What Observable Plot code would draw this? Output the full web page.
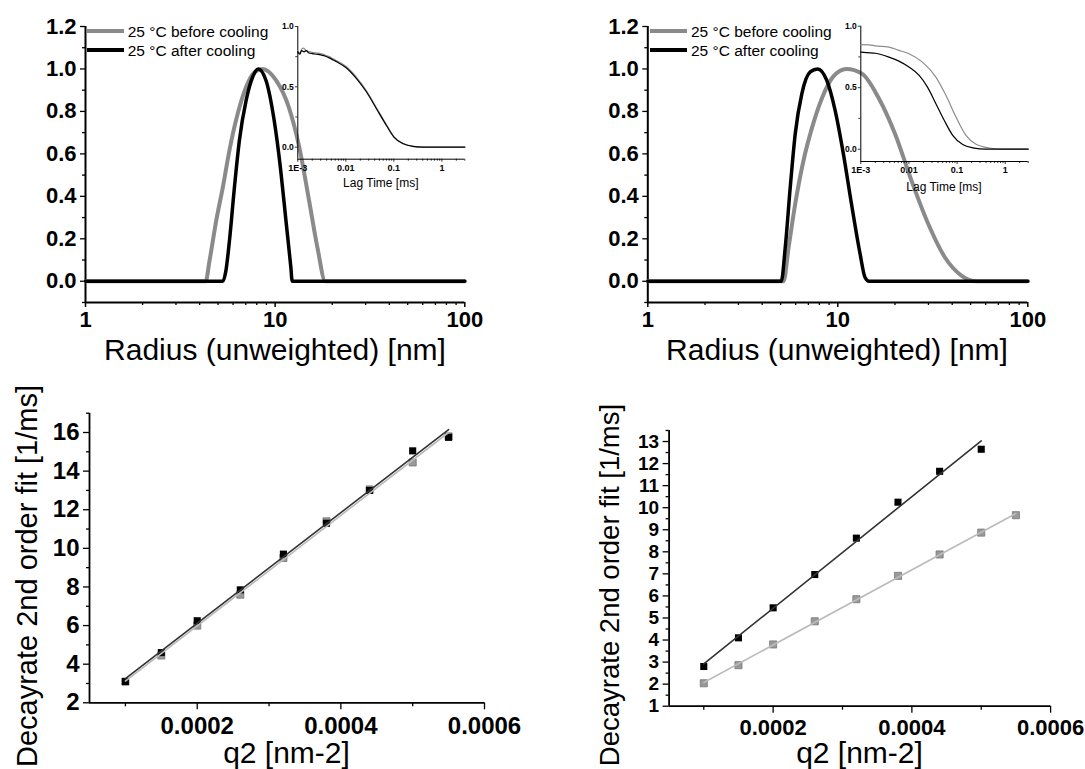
<!DOCTYPE html>
<html>
<head>
<meta charset="utf-8">
<script src="https://cdn.jsdelivr.net/npm/d3@7"></script>
<script src="https://cdn.jsdelivr.net/npm/@observablehq/plot@0.6"></script>
<style>
  body { margin: 0; background: #fff; }
  #fig { position: relative; width: 1085px; height: 769px; overflow: hidden; background: #fff;
         font-family: "Liberation Sans", Arial, Helvetica, sans-serif; }
  #fig svg { position: absolute; }
  .lbl { position: absolute; white-space: nowrap; line-height: 1; color: #000; }
  .swatch { position: absolute; height: 4px; }
</style>
</head>
<body>
<div id="fig"></div>
<script>
// ---------------- data ----------------
const seriesNames = ["25 °C before cooling", "25 °C after cooling"];
const seriesColors = ["#8a8a8a", "#000000"];

// top panels: size distribution, [radius nm, normalized intensity]
const leftBefore = [[1,0],[4.3,0],[4.51,0.098],[4.89,0.286],[5.30,0.443],[5.74,0.617],[6.35,0.79],[7.03,0.915],[7.7,0.98],[8.58,1.0],[10.1,0.947],[11.8,0.82],[13.4,0.632],[15.1,0.38],[16.7,0.16],[18.4,0],[100,0]];
const leftAfter = [[1,0],[5.30,0],[5.5,0.05],[5.74,0.19],[6.10,0.443],[6.48,0.664],[7.03,0.852],[7.61,0.962],[8.15,1.0],[8.94,0.947],[9.88,0.758],[10.7,0.522],[11.4,0.286],[12.1,0.066],[12.3,0],[100,0]];
const rightBefore = [[1,0],[5.18,0],[5.51,0.16],[5.97,0.365],[6.60,0.569],[7.30,0.72],[8.23,0.86],[9.48,0.965],[11.1,1.0],[13.4,0.978],[16.3,0.868],[20.0,0.695],[24.4,0.475],[29.9,0.271],[36.6,0.113],[44.7,0.027],[53.6,0],[100,0]];
const rightAfter = [[1,0],[5.04,0],[5.29,0.16],[5.62,0.443],[5.97,0.695],[6.47,0.884],[7.16,0.986],[7.84,1.0],[8.74,0.947],[9.68,0.805],[10.7,0.6],[11.8,0.365],[13.1,0.129],[13.9,0.019],[14.6,0],[100,0]];

const radiusTicks = [1, 10, 100];
const radiusMinorTicks = [2,3,4,5,6,7,8,9,20,30,40,50,60,70,80,90];
const sizeTicks = [0, 0.2, 0.4, 0.6, 0.8, 1.0, 1.2];
const sizeMinorTicks = [-0.1, 0.1, 0.3, 0.5, 0.7, 0.9, 1.1];

// insets: correlation functions, [lag time ms, g]
const leftCorrBefore = [[0.001,0.80],[0.0011,0.78],[0.0012,0.81],[0.0013,0.82],[0.0015,0.80],[0.0018,0.79],[0.002,0.785],[0.0025,0.78],[0.003,0.775],[0.0035,0.768],[0.0045,0.75],[0.0056,0.73],[0.007,0.71],[0.01,0.67],[0.017,0.575],[0.0274,0.463],[0.044,0.322],[0.071,0.182],[0.1,0.088],[0.157,0.03],[0.25,0.007],[0.4,0],[1,0],[3,0]];
const leftCorrAfter = [[0.001,0.79],[0.0011,0.77],[0.0012,0.80],[0.00135,0.79],[0.0015,0.80],[0.0017,0.78],[0.002,0.775],[0.0025,0.77],[0.003,0.765],[0.0035,0.758],[0.0045,0.74],[0.0056,0.72],[0.007,0.70],[0.01,0.66],[0.017,0.564],[0.0274,0.453],[0.044,0.314],[0.071,0.175],[0.1,0.083],[0.157,0.028],[0.25,0.006],[0.4,0],[1,0],[3,0]];
const rightCorrBefore = [[0.001,0.85],[0.0015,0.848],[0.002,0.84],[0.00385,0.83],[0.006,0.805],[0.01,0.776],[0.0191,0.708],[0.0363,0.586],[0.0586,0.438],[0.0948,0.262],[0.153,0.113],[0.248,0.04],[0.47,0.01],[1,0],[3,0]];
const rightCorrAfter = [[0.001,0.79],[0.0013,0.785],[0.00203,0.78],[0.00385,0.749],[0.0062,0.716],[0.01,0.668],[0.0163,0.6],[0.0243,0.505],[0.0363,0.37],[0.054,0.235],[0.081,0.113],[0.131,0.038],[0.212,0.011],[0.4,0],[1,0],[3,0]];

const lagTicks = [0.001, 0.01, 0.1, 1];
const lagTickLabels = ["1E-3", "0.01", "0.1", "1"];
const lagMinorTicks = [0.002,0.003,0.004,0.005,0.006,0.007,0.008,0.009,0.02,0.03,0.04,0.05,0.06,0.07,0.08,0.09,0.2,0.3,0.4,0.5,0.6,0.7,0.8,0.9,2,3];
const corrTicks = [0, 0.5, 1.0];
const corrMinorTicks = [0.25, 0.75];

// bottom panels: decay rate vs q^2
const q2 = [0.0001, 0.00015, 0.0002, 0.00026, 0.00032, 0.00038, 0.00044, 0.0005, 0.00055];
const leftRateBefore = [3.1, 4.45, 6.0, 7.6, 9.5, 11.4, 13.05, 14.45, 15.8];
const leftRateAfter = [3.1, 4.6, 6.25, 7.85, 9.7, 11.3, 13.0, 15.05, 15.75];
const rightRateBefore = [2.04, 2.86, 3.8, 4.85, 5.85, 6.91, 7.88, 8.87, 9.66];
const rightRateAfter = [2.8, 4.1, 5.46, 6.97, 8.62, 10.25, 11.65, 12.65];

const q2Ticks = [0.0002, 0.0004, 0.0006];
const q2MinorTicks = [0.0001, 0.0003, 0.0005];
const leftRateTicks = [2, 4, 6, 8, 10, 12, 14, 16];
const leftRateMinorTicks = [3, 5, 7, 9, 11, 13, 15, 17];
const rightRateTicks = [1,2,3,4,5,6,7,8,9,10,11,12,13];
const rightRateMinorTicks = [1.5,2.5,3.5,4.5,5.5,6.5,7.5,8.5,9.5,10.5,11.5,12.5,13.5];

// ---------------- drawing ----------------
const FONT = '"Liberation Sans", Arial, Helvetica, sans-serif';
const fig = document.getElementById("fig");
const blank = () => "";

function put(node, left, top) {
  node.style.left = left + "px";
  node.style.top = top + "px";
  fig.appendChild(node);
}
function label(text, x, y, size, opts = {}) {
  const d = document.createElement("div");
  d.className = "lbl";
  d.textContent = text;
  d.style.fontSize = size + "px";
  d.style.fontWeight = opts.bold ? "bold" : "normal";
  d.style.left = x + "px";
  d.style.top = y + "px";
  d.style.transform = `translate(${opts.anchor === "start" ? "0" : "-50%"},-50%)` + (opts.rotate ? ` rotate(${opts.rotate}deg)` : "");
  fig.appendChild(d);
}
function legend(x0, x1, xt) {
  const ys = [31, 50];
  seriesNames.forEach((name, i) => {
    const s = document.createElement("div");
    s.className = "swatch";
    s.style.width = (x1 - x0) + "px";
    s.style.background = seriesColors[i];
    put(s, x0, ys[i] - 2);
    label(name, xt, ys[i] + 1, 15.5, {anchor: "start"});
  });
}
const px = d => d[0], py = d => d[1];

function sizePlot({before, after, width, marginLeft, marginRight}) {
  return Plot.plot({
    width, height: 370, marginLeft, marginRight, marginTop: 26, marginBottom: 68,
    x: {type: "log", domain: [1, 100], label: null},
    y: {domain: [-0.1, 1.2], label: null},
    style: {fontFamily: FONT, fontSize: "22px", fontWeight: "bold", background: "transparent", overflow: "visible", color: "#000"},
    marks: [
      Plot.axisY(sizeMinorTicks, {tickSize: 3, tickFormat: blank, strokeWidth: 1.3}),
      Plot.axisY(sizeTicks, {tickSize: 5, tickPadding: 4, tickFormat: d3.format(".1f"), fontSize: 22, fontWeight: "bold", strokeWidth: 1.3}),
      Plot.axisX(radiusMinorTicks, {tickSize: 3, tickFormat: blank, strokeWidth: 1.3}),
      Plot.axisX(radiusTicks, {tickSize: 5, tickPadding: 4, tickFormat: d => String(d), fontSize: 22, fontWeight: "bold", strokeWidth: 1.5}),
      Plot.ruleX([1], {strokeWidth: 2}),
      Plot.ruleY([-0.1], {strokeWidth: 2}),
      Plot.line(before, {x: px, y: py, stroke: seriesColors[0], strokeWidth: 4, curve: "monotone-x"}),
      Plot.line(after, {x: px, y: py, stroke: seriesColors[1], strokeWidth: 3.5, curve: "monotone-x"})
    ]
  });
}

function corrPlot({before, after, width, height, marginLeft, marginRight, marginTop, marginBottom}) {
  const lagLabel = new Map(lagTicks.map((t, i) => [t, lagTickLabels[i]]));
  return Plot.plot({
    width, height, marginLeft, marginRight, marginTop, marginBottom,
    x: {type: "log", domain: [0.001, 3], label: null},
    y: {domain: [-0.1, 1.0], label: null},
    style: {fontFamily: FONT, fontSize: "9px", fontWeight: "bold", background: "transparent", overflow: "visible", color: "#000"},
    marks: [
      Plot.axisY(corrMinorTicks, {tickSize: 2, tickFormat: blank, strokeWidth: 0.8}),
      Plot.axisY(corrTicks, {tickSize: 2.5, tickPadding: 1.5, tickFormat: d3.format(".1f"), fontSize: 8.5, fontWeight: "bold", strokeWidth: 0.8}),
      Plot.axisX(lagMinorTicks, {tickSize: 2, tickFormat: blank, strokeWidth: 0.8}),
      Plot.axisX(lagTicks, {tickSize: 3, tickPadding: 2, tickFormat: d => lagLabel.get(d), fontSize: 9, fontWeight: "bold", strokeWidth: 0.8}),
      Plot.ruleX([0.001], {strokeWidth: 1}),
      Plot.ruleY([-0.1], {strokeWidth: 1}),
      Plot.line(before, {x: px, y: py, stroke: "#8c8c8c", strokeWidth: 1.2, curve: "monotone-x"}),
      Plot.line(after, {x: px, y: py, stroke: "#000", strokeWidth: 1.2, curve: "monotone-x"})
    ]
  });
}

function ratePlot({before, after, width, marginLeft, marginRight, marginTop, marginBottom, yDomain, yTicks, yMinor, tickPad, yFont, xFont}) {
  const grayData = before.map((v, i) => ({q: q2[i], v}));
  const blackData = after.map((v, i) => ({q: q2[i], v}));
  return Plot.plot({
    width, height: 399, marginLeft, marginRight, marginTop, marginBottom,
    x: {domain: [0.00005, 0.0006], label: null},
    y: {domain: yDomain, label: null},
    style: {fontFamily: FONT, fontSize: "24px", fontWeight: "bold", background: "transparent", overflow: "visible", color: "#000"},
    marks: [
      Plot.axisY(yMinor, {tickSize: 3, tickFormat: blank, strokeWidth: 1.3}),
      Plot.axisY(yTicks, {tickSize: 6, tickPadding: 4, tickFormat: d => String(d), fontSize: yFont, fontWeight: "bold", strokeWidth: 1.3}),
      Plot.axisX(q2MinorTicks, {tickSize: 4, tickFormat: blank, strokeWidth: 1.3}),
      Plot.axisX(q2Ticks, {tickSize: 7, tickPadding: tickPad, tickFormat: d => d.toFixed(4), fontSize: xFont, fontWeight: "bold", strokeWidth: 1.3}),
      Plot.ruleX([0.00005], {strokeWidth: 1.8}),
      Plot.ruleY([yDomain[0]], {strokeWidth: 1.8}),
      Plot.dot(grayData, {x: "q", y: "v", symbol: "square", r: 4, fill: "#999", stroke: "#777", strokeWidth: 0.8}),
      Plot.dot(blackData, {x: "q", y: "v", symbol: "square", r: 4, fill: "#000"}),
      Plot.linearRegressionY(grayData, {x: "q", y: "v", stroke: "#bbbbbb", strokeWidth: 1.6, ci: 0}),
      Plot.linearRegressionY(blackData, {x: "q", y: "v", stroke: "#333333", strokeWidth: 1.6, ci: 0})
    ]
  });
}

// top-left
put(sizePlot({before: leftBefore, after: leftAfter, width: 540, marginLeft: 85, marginRight: 75.7}), 0, 0);
// top-right
put(sizePlot({before: rightBefore, after: rightAfter, width: 545, marginLeft: 107.3, marginRight: 57.7}), 540, 0);
// insets
put(corrPlot({before: leftCorrBefore, after: leftCorrAfter, width: 215, height: 180, marginLeft: 37.3, marginRight: 10.7, marginTop: 12, marginBottom: 35.3}), 260, 14);
put(corrPlot({before: rightCorrBefore, after: rightCorrAfter, width: 215, height: 185, marginLeft: 37.3, marginRight: 10.3, marginTop: 11.7, marginBottom: 38}), 823, 14);
// bottom-left
put(ratePlot({before: leftRateBefore, after: leftRateAfter, width: 540, marginLeft: 89, marginRight: 56, marginTop: 42.7, marginBottom: 66.7,
  yDomain: [2, 17], yTicks: leftRateTicks, yMinor: leftRateMinorTicks, tickPad: 7, yFont: 24, xFont: 24}), 0, 370);
// bottom-right
put(ratePlot({before: rightRateBefore, after: rightRateAfter, width: 545, marginLeft: 128.6, marginRight: 34.9, marginTop: 60, marginBottom: 63.3,
  yDomain: [1, 13.5], yTicks: rightRateTicks, yMinor: rightRateMinorTicks, tickPad: 6, yFont: 19, xFont: 22}), 540, 370);

// legends
legend(87.3, 124, 127.7);
legend(650, 686.8, 691);

// axis titles
label("Radius (unweighted) [nm]", 275, 350, 30);
label("Radius (unweighted) [nm]", 837, 350, 30);
label("Lag Time [ms]", 380.8, 183, 12);
label("Lag Time [ms]", 944, 186.7, 12);
label("q2 [nm-2]", 286.5, 753, 30);
label("q2 [nm-2]", 859.5, 753.3, 30);
label("Decayrate 2nd order fit [1/ms]", 26.8, 576, 29, {rotate: -90});
label("Decayrate 2nd order fit [1/ms]", 610, 585, 27.5, {rotate: -90});
</script>
</body>
</html>
